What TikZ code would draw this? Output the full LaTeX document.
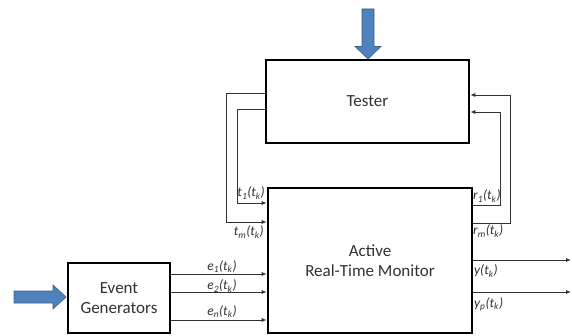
\documentclass[tikz,border=0pt]{standalone}
\usepackage{fontspec}
\setmainfont{Carlito}
\usepackage{xcolor}
\usepackage{tikz}
\usetikzlibrary{arrows.meta}
\definecolor{arrowblue}{RGB}{79,129,189}
\definecolor{arrowedge}{RGB}{56,93,138}
\definecolor{inkgray}{RGB}{50,50,50}

\begin{document}
\begin{tikzpicture}
[x=1pt,y=-1pt,
>={Latex[length=5pt,width=4pt]},
block/.style={rectangle,draw=black,line width=2.6pt,fill=white,inner sep=0pt,
  text=inkgray,align=center,font=\fontsize{17}{20.5}\selectfont},
sig/.style={draw=inkgray,line width=0.8pt},
lbl/.style={inner sep=0pt,anchor=base,text=inkgray,font=\fontsize{13.5}{14}\selectfont\itshape},
fat/.style={fill=arrowblue,draw=arrowedge,line width=0.6pt}]
\useasboundingbox (0,0) rectangle (572,336);

% blocks
\node at (367.5,101.5) [block,minimum width=203pt,minimum height=83pt] (tester) {Tester};
\node at (370,260.5) [block,minimum width=204pt,minimum height=145pt] (monitor) {Active\\Real-Time Monitor};
\node at (119,298) [block,minimum width=102pt,minimum height=70pt] (gen) {Event\\Generators};

% input arrows
\filldraw[fat] (362,9) -- (374,9) -- (374,46.5) -- (381,46.5) -- (368,59) -- (355,46.5) -- (362,46.5) -- cycle;
\filldraw[fat] (14,291) -- (53,291) -- (53,285) -- (66,297) -- (53,309) -- (53,303) -- (14,303) -- cycle;

% tester to monitor
\draw [sig,->] ([yshift=8.5pt]tester.west) -- ++(-38,0) |- ([yshift=38.5pt]monitor.west);
\draw [sig,->] ([yshift=-7.5pt]tester.west) -- ++(-27,0) |- ([yshift=57.5pt]monitor.west);
\node at (265,197) [lbl,anchor=base east] (t1lbl) {t\textsubscript{1}(t\textsubscript{k})};
\node at (264,236) [lbl,anchor=base east] (tmlbl) {t\textsubscript{m}(t\textsubscript{k})};

% monitor to tester
\draw [sig,->] ([yshift=55.5pt]monitor.east) -- ++(27,0) |- ([yshift=-10.5pt]tester.east);
\draw [sig,->] ([yshift=37.5pt]monitor.east) -- ++(37,0) |- ([yshift=6.5pt]tester.east);
\node at (473,200) [lbl,anchor=base west] (r1lbl) {r\textsubscript{1}(t\textsubscript{k})};
\node at (473,235) [lbl,anchor=base west] (rmlbl) {r\textsubscript{m}(t\textsubscript{k})};

% events
\draw [sig,->] ([yshift=24pt]gen.east) -- ([yshift=24pt]gen.east -| monitor.west);
\draw [sig,->] ([yshift=6pt]gen.east) -- ([yshift=6pt]gen.east -| monitor.west);
\draw [sig,->] ([yshift=-22pt]gen.east) -- ([yshift=-22pt]gen.east -| monitor.west);
\node at (222,270) [lbl] (e1lbl) {e\textsubscript{1}(t\textsubscript{k})};
\node at (222,290) [lbl] (e2lbl) {e\textsubscript{2}(t\textsubscript{k})};
\node at (222,315) [lbl] (enlbl) {e\textsubscript{n}(t\textsubscript{k})};

% outputs
\coordinate (yout) at (571,260);
\coordinate (ypout) at (571,292);
\draw [sig,->] (monitor.east |- yout) -- (yout);
\draw [sig,->] (monitor.east |- ypout) -- (ypout);
\node at (474,275) [lbl,anchor=base west] (ylbl) {y(t\textsubscript{k})};
\node at (474,307) [lbl,anchor=base west] (yplbl) {y\textsubscript{p}(t\textsubscript{k})};
\end{tikzpicture}
\end{document}
